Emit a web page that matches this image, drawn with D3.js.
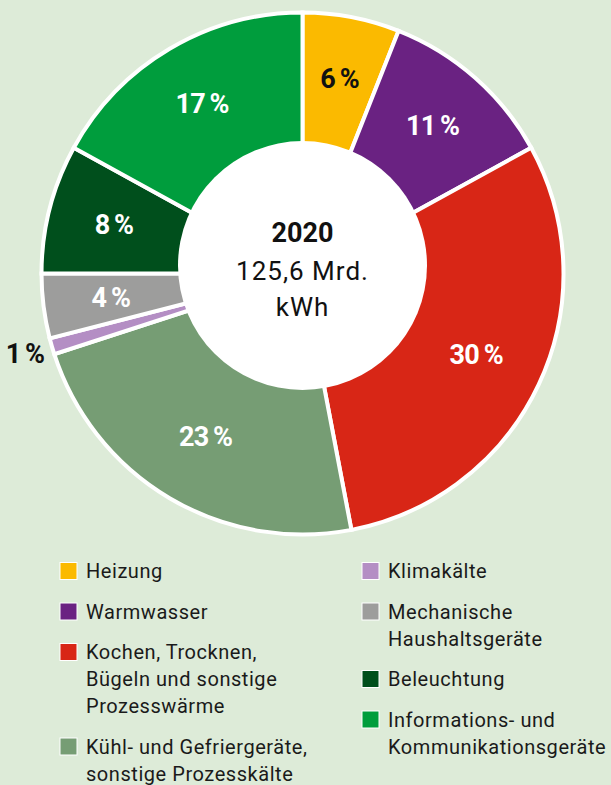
<!DOCTYPE html>
<html><head><meta charset="utf-8">
<script src="https://cdn.jsdelivr.net/npm/d3@7"></script>
<style>
html,body{margin:0;padding:0;background:#ddebd8;}
svg{display:block;}
</style></head>
<body>
<svg id="chart" width="611" height="785"></svg>
<script>
const categories = ["Heizung","Warmwasser","Kochen, Trocknen,\nBügeln und sonstige\nProzesswärme","Kühl- und Gefriergeräte,\nsonstige Prozesskälte","Klimakälte","Mechanische\nHaushaltsgeräte","Beleuchtung","Informations- und\nKommunikationsgeräte"];
const values = [6, 11, 30, 23, 1, 4, 8, 17];
const colors = ["#fbba00","#6a2282","#d82616","#769d74","#b48ec4","#9d9d9c","#004f1c","#009d3d"];
const labelColors = ["#111","#fff","#fff","#fff","#111","#fff","#fff","#fff"];
const legendColumns = [[0,1,2,3],[4,5,6,7]];
const centerYear = "2020";
const centerLines = ["125,6 Mrd.","kWh"];

const svg = d3.select("#chart");
const cx = 302.5, cy = 273.5, R = 261;
const holeOffset = -8, holeR = 124.5;
const g = svg.append("g").attr("transform",`translate(${cx},${cy})`);

const pie = d3.pie().sort(null).value(d=>d);
const arcs = pie(values);
const arc = d3.arc().innerRadius(0).outerRadius(R);

g.selectAll("path.slice").data(arcs).enter().append("path")
  .attr("class","slice")
  .attr("d",arc)
  .attr("fill",(d,i)=>colors[i])
  .attr("stroke","#fff").attr("stroke-width",4).attr("stroke-linejoin","miter");

// inner white circle (slightly raised)
g.append("circle").attr("cx",0).attr("cy",holeOffset).attr("r",holeR).attr("fill","#fff");

// label radius: midway between hole edge and outer edge along the slice bisector
function labelPos(d,i){
  const a = (d.startAngle + d.endAngle)/2;
  const ux = Math.sin(a), uy = -Math.cos(a);
  let r;
  if (values[i] < 2) r = 289;
  else {
    const b = uy*holeOffset;
    const t = b + Math.sqrt(b*b - holeOffset*holeOffset + holeR*holeR);
    r = (t + R)/2 + 1;
  }
  return [ux*r, uy*r];
}
g.selectAll("text.pct").data(arcs).enter().append("text")
  .attr("class","pct")
  .attr("transform",(d,i)=>{const c = labelPos(d,i); return `translate(${c[0]},${c[1]})`;})
  .attr("text-anchor","middle").attr("dominant-baseline","central")
  .attr("font-family","Roboto, 'Liberation Sans', sans-serif")
  .attr("font-weight","bold").attr("font-size",27).attr("letter-spacing",-0.8)
  .attr("fill",(d,i)=>labelColors[i])
  .text((d,i)=>values[i]+"\u2009%");

// center text
const ct = g.append("g").attr("font-family","Roboto, 'Liberation Sans', sans-serif").attr("text-anchor","middle").attr("fill","#111");
ct.append("text").attr("y",-41).attr("dominant-baseline","central").attr("font-size",27).attr("font-weight","bold").text(centerYear);
centerLines.forEach((t,i)=>{
  ct.append("text").attr("y",-3+i*36).attr("dominant-baseline","central").attr("font-size",26).attr("letter-spacing",1).text(t);
});

// legend
const colX = [60, 362];
const lineH = 27, itemStep = 40.5, y0 = 571;
legendColumns.forEach((col,ci)=>{
  let y = y0;
  col.forEach(idx=>{
    const lines = categories[idx].split("\n");
    const lg = svg.append("g").attr("transform",`translate(${colX[ci]},${y})`);
    lg.append("rect").attr("x",0).attr("y",-8.5).attr("width",17).attr("height",17)
      .attr("fill",colors[idx]).attr("stroke","#fff").attr("stroke-width",1);
    const t = lg.append("text").attr("x",26).attr("font-family","Roboto, 'Liberation Sans', sans-serif")
      .attr("font-size",20).attr("fill","#1a1a1a").attr("letter-spacing",0.55);
    lines.forEach((l,li)=>{
      t.append("tspan").attr("x",26).attr("y",li*lineH).attr("dominant-baseline","central").text(l);
    });
    y += (lines.length-1)*lineH + itemStep;
  });
});
</script>
</body></html>
